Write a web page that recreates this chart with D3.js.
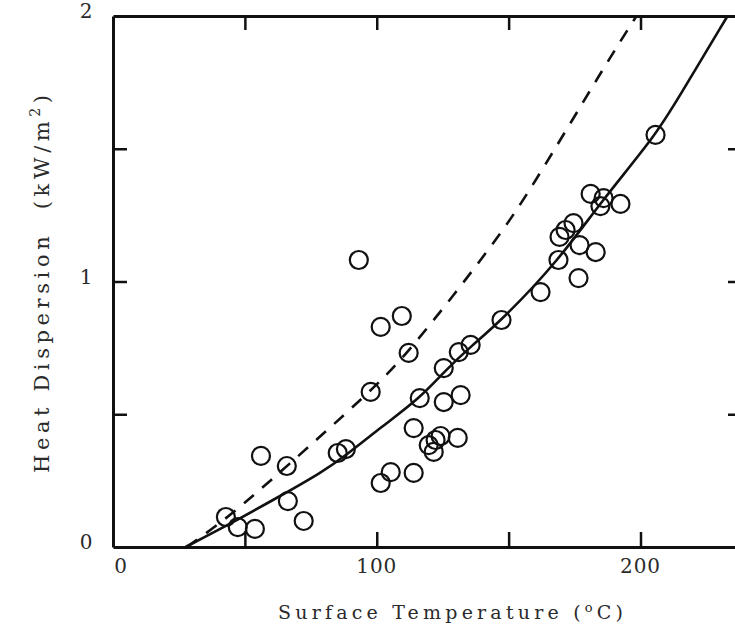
<!DOCTYPE html>
<html>
<head>
<meta charset="utf-8">
<script src="https://d3js.org/d3.v7.min.js"></script>
<style>
  body { margin: 0; background: #fff; }
  text { font-family: "DejaVu Serif", "Liberation Serif", serif; fill: #2a2a2a; }
</style>
</head>
<body>
<div id="chart"></div>
<script>
// Define SVG area dimensions
var svgWidth = 735;
var svgHeight = 625;

// measured points: surface temperature (oC) / heat dispersion (kW/m2)
var tempObs = [42.8, 47.3, 53.8, 56.1, 65.9, 66.3, 72.3, 85.2, 88.3, 93.2,
               101.5, 97.7, 109.5, 112.1, 101.5, 105.3, 114.0, 114.0, 116.3, 119.7,
               121.6, 122.3, 124.2, 125.4, 125.4, 130.7, 131.8, 131.1, 135.6, 147.3,
               162.1, 168.9, 169.3, 171.6, 174.6, 176.9, 176.5, 183.0, 181.1, 186.0,
               184.8, 192.4, 205.7];
var heatObs = [0.113, 0.075, 0.068, 0.343, 0.305, 0.173, 0.098, 0.354, 0.369, 1.081,
               0.829, 0.584, 0.870, 0.731, 0.241, 0.282, 0.279, 0.448, 0.561, 0.384,
               0.358, 0.403, 0.418, 0.546, 0.674, 0.411, 0.572, 0.734, 0.761, 0.855,
               0.960, 1.081, 1.168, 1.194, 1.220, 1.137, 1.013, 1.111, 1.330, 1.314,
               1.284, 1.292, 1.552];

// solid curve (fit through the measurements)
var solidTemp = [27.5, 45, 63, 79, 89, 101.5, 116.3, 126, 135.6, 147.5, 169, 185, 205.7, 214, 233];
var solidHeat = [0, 0.09, 0.19, 0.28, 0.35, 0.45, 0.56, 0.665, 0.755, 0.855, 1.08, 1.30, 1.55, 1.685, 2.0];

// dashed curve
var dashTemp = [28, 43.6, 65.5, 97, 112, 145, 158, 187.5, 198.5];
var dashHeat = [0, 0.11, 0.30, 0.58, 0.73, 1.15, 1.34, 1.83, 2.0];

// ticks
var xTicks = [50, 100, 150, 200];
var yTicks = [0.5, 1, 1.5];
var xLabels = [0, 100, 200];
var yLabels = [0, 1, 2];

var margin = {left: 113, top: 16, bottom: 78};
var plotW = 633, plotH = svgHeight - margin.top - margin.bottom;

var svg = d3.select('#chart')
    .append('svg')
    .attr('width', svgWidth)
    .attr('height', svgHeight);

var g = svg.append('g')
    .attr('transform', 'translate(' + margin.left + ',' + margin.top + ')');

var xScale = d3.scaleLinear().domain([0, 240]).range([0, plotW]);
var yScale = d3.scaleLinear().domain([0, 2]).range([plotH, 0]);

////////////////////////////////////////////////////////////////////////////////
// frame: four sides, ticks pointing inward
var frame = [
  {axis: d3.axisBottom(xScale), y: plotH, ticks: xTicks, size: -15},
  {axis: d3.axisTop(xScale), y: 0, ticks: xTicks, size: -14},
  {axis: d3.axisLeft(yScale), x: 0, ticks: yTicks, size: -14},
  {axis: d3.axisRight(yScale), x: plotW, ticks: yTicks, size: -18}
];

frame.forEach(function(f){
  var ax = g.append('g')
      .attr('transform', 'translate(' + (f.x || 0) + ',' + (f.y || 0) + ')')
      .call(f.axis.tickValues(f.ticks).tickSize(f.size).tickSizeOuter(0).tickFormat(''));
  ax.select('.domain').attr('stroke', '#111').attr('stroke-width', 3);
  ax.selectAll('.tick line').attr('stroke', '#111').attr('stroke-width', 2.5);
});

// tick labels
g.selectAll('text.xlab')
  .data(xLabels)
  .enter()
  .append('text')
    .attr('class', 'xlab')
    .attr('x', d => xScale(d) + (d === 0 ? 8 : 0))
    .attr('y', plotH + 26)
    .attr('text-anchor', 'middle')
    .style('font-size', '20px')
    .style('letter-spacing', '1px')
    .text(d => d);

g.selectAll('text.ylab')
  .data(yLabels)
  .enter()
  .append('text')
    .attr('class', 'ylab')
    .attr('x', -27)
    .attr('y', d => yScale(d) + 2)
    .attr('text-anchor', 'middle')
    .style('font-size', '20px')
    .text(d => d);

////////////////////////////////////////////////////////////////////////////////
// curves
var line = d3.line()
    .x(d => xScale(d[0]))
    .y(d => yScale(d[1]))
    .curve(d3.curveBasis);

g.append('path')
    .attr('d', line(d3.zip(solidTemp, solidHeat)))
    .attr('fill', 'none')
    .attr('stroke', '#111')
    .attr('stroke-width', 2.6);

g.append('path')
    .attr('d', line(d3.zip(dashTemp, dashHeat)))
    .attr('fill', 'none')
    .attr('stroke', '#111')
    .attr('stroke-width', 2.6)
    .attr('stroke-dasharray', '13,11');

// points
g.selectAll('circle')
  .data(d3.zip(tempObs, heatObs))
  .enter()
  .append('circle')
    .attr('cx', d => xScale(d[0]))
    .attr('cy', d => yScale(d[1]))
    .attr('r', 9)
    .attr('fill', 'none')
    .attr('stroke', '#111')
    .attr('stroke-width', 2.2);

////////////////////////////////////////////////////////////////////////////////
// axis titles (typewriter spacing)
var xt = svg.append('text')
    .attr('x', 278)
    .attr('y', 619)
    .style('font-size', '19px')
    .style('letter-spacing', '4.2px');
xt.append('tspan').text('Surface Temperature (');
xt.append('tspan').attr('dy', -7).style('font-size', '13px').text('o');
xt.append('tspan').attr('dy', 7).text('C)');

var yt = svg.append('text')
    .attr('transform', 'translate(49,473) rotate(-90)')
    .style('font-size', '21px')
    .style('letter-spacing', '4.6px')
    .attr('xml:space', 'preserve');
yt.append('tspan').text('Heat Dispersion  (kW/m');
yt.append('tspan').attr('dy', -9).style('font-size', '14px').text('2');
yt.append('tspan').attr('dy', 9).text(')');
</script>
</body>
</html>
